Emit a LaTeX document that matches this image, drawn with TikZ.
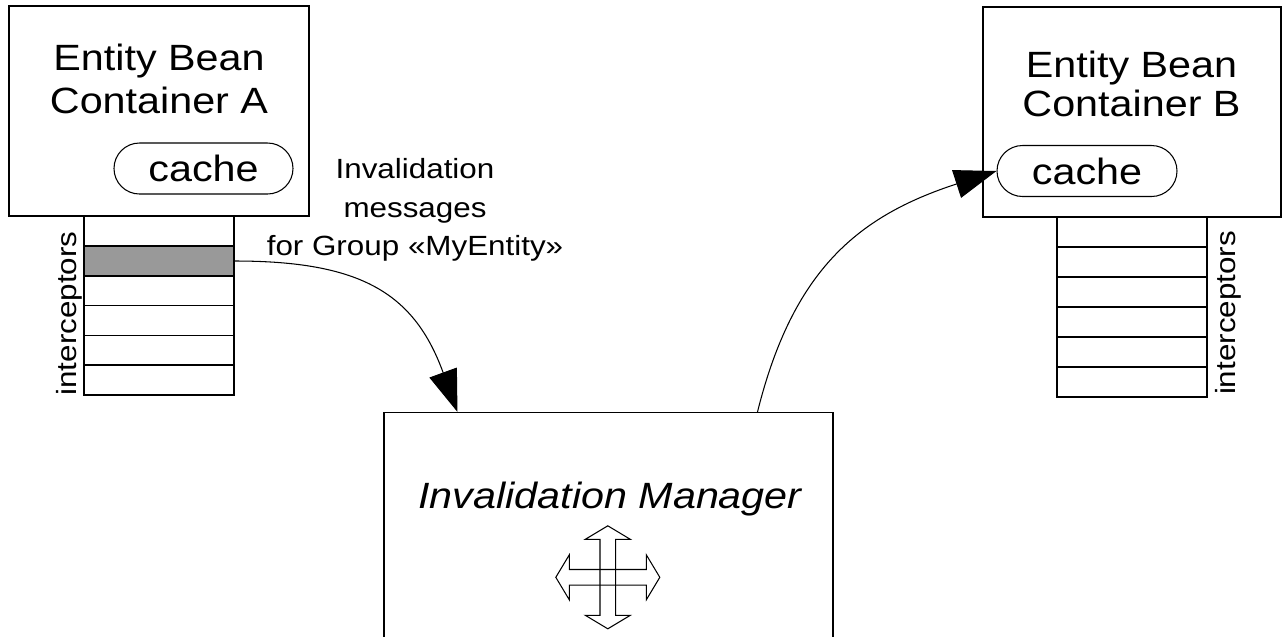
\documentclass[tikz,border=0pt]{standalone}
\usepackage{fontspec}
\setmainfont[FakeStretch=1.13]{Liberation Sans}
\usetikzlibrary{arrows.meta}
\newcommand{\BoxFont}{\fontsize{20.8pt}{22.2pt}\selectfont}
\newcommand{\NoteFont}{\fontsize{15.8pt}{21.9pt}\selectfont}
\definecolor{InterceptorGrey}{rgb}{0.6,0.6,0.6}
\tikzstyle{bean-container}=[rectangle,
                             draw=black,
                             inner sep=0pt,
                             minimum width=6cm,
                             minimum height=4.2cm
                            ]
\tikzstyle{cache-base}=[rectangle,
                        draw=black,
                        rounded corners=0.51cm,
                        inner sep=0pt,
                        font=\BoxFont,
                        minimum width=3.58cm,
                        minimum height=1.02cm]
\tikzstyle{interceptor}=[rectangle,
                         draw=black,
                         inner sep=0pt,
                         minimum width=3cm,
                         minimum height=0.6cm]
\tikzstyle{active-interceptor}=[interceptor,
                                fill={InterceptorGrey}]
\tikzstyle{box-title}=[align=center, font=\BoxFont, inner sep=0pt, anchor=north]
\tikzstyle{stack-label}=[rotate=90, anchor=south, font=\NoteFont, inner sep=0pt]
\tikzstyle{big-arrow}=[-{Triangle[length=0.84cm, width=0.58cm]}]

\begin{document}
\begin{tikzpicture}[line width=0.6pt]

\clip (0cm, 0cm) rectangle (25.66cm, -12.72cm);

\node at (3.18cm, -2.22cm) (containerA) [bean-container] {};
\node at (3.18cm, -0.86cm) (titleA) [box-title] {Entity Bean\\[2.8pt]Container A};
\node at (4.07cm, -3.37cm) (cacheA) [cache-base] {cache};

\node at (3.18cm, -4.62cm) (cellA1) [interceptor] {};
\node at (3.18cm, -5.22cm) (cellA2) [active-interceptor] {};
\node at (3.18cm, -5.81cm) (cellA3) [interceptor] {};
\node at (3.18cm, -6.41cm) (cellA4) [interceptor] {};
\node at (3.18cm, -7.01cm) (cellA5) [interceptor] {};
\node at (3.18cm, -7.60cm) (cellA6) [interceptor] {};
\node at (1.66cm, -6.27cm) (stackA_t) [stack-label] {interceptors};

\node at (22.64cm, -2.24cm) (containerB) [bean-container, minimum width=5.96cm] {};
\node at (22.63cm, -1.00cm) (titleB) [box-title] {Entity Bean\\Container B};
\node at (21.74cm, -3.42cm) (cacheB) [cache-base, minimum width=3.6cm] {cache};

\node at (22.64cm, -4.64cm) (cellB1) [interceptor] {};
\node at (22.64cm, -5.24cm) (cellB2) [interceptor] {};
\node at (22.64cm, -5.84cm) (cellB3) [interceptor] {};
\node at (22.64cm, -6.44cm) (cellB4) [interceptor] {};
\node at (22.64cm, -7.04cm) (cellB5) [interceptor] {};
\node at (22.64cm, -7.64cm) (cellB6) [interceptor] {};
\node at (24.84cm, -6.26cm) (stackB_t) [stack-label] {interceptors};

\node at (8.30cm, -3.16cm) (messages_t) [align=center, font=\NoteFont, inner sep=0pt, anchor=north] {Invalidation\\messages\\for Group «MyEntity»};

\node at (12.17cm, -8.24cm) (manager) [bean-container, anchor=north, minimum width=8.98cm, minimum height=5cm] {};
\node at (12.20cm, -10.16cm) (manager_t) [font=\BoxFont\itshape, inner sep=0pt, anchor=base] {Invalidation Manager};

\coordinate (hub) at (12.156cm, -11.546cm);
\draw[shift={(hub)}] (0cm, 1.03cm) -- (0.45cm, 0.76cm) -- (0.156cm, 0.76cm) -- (0.156cm, -0.76cm) -- (0.45cm, -0.76cm) -- (0cm, -1.03cm) -- (-0.45cm, -0.76cm) -- (-0.156cm, -0.76cm) -- (-0.156cm, 0.76cm) -- (-0.45cm, 0.76cm) -- cycle;
\draw[shift={(hub)}] (-1.04cm, 0cm) -- (-0.77cm, 0.45cm) -- (-0.77cm, 0.156cm) -- (0.77cm, 0.156cm) -- (0.77cm, 0.45cm) -- (1.04cm, 0cm) -- (0.77cm, -0.45cm) -- (0.77cm, -0.156cm) -- (-0.77cm, -0.156cm) -- (-0.77cm, -0.45cm) -- cycle;

\coordinate (manager_in) at ([xshift=1.48cm]manager.north west);
\coordinate (manager_out) at ([xshift=7.48cm]manager.north west);

\draw[big-arrow] (cellA2.east) to[out=0, in=110, looseness=1.2] (manager_in);
\draw[big-arrow] (manager_out) to[out=76, in=-162, looseness=1.1] (cacheB.west);

\end{tikzpicture}
\end{document}
